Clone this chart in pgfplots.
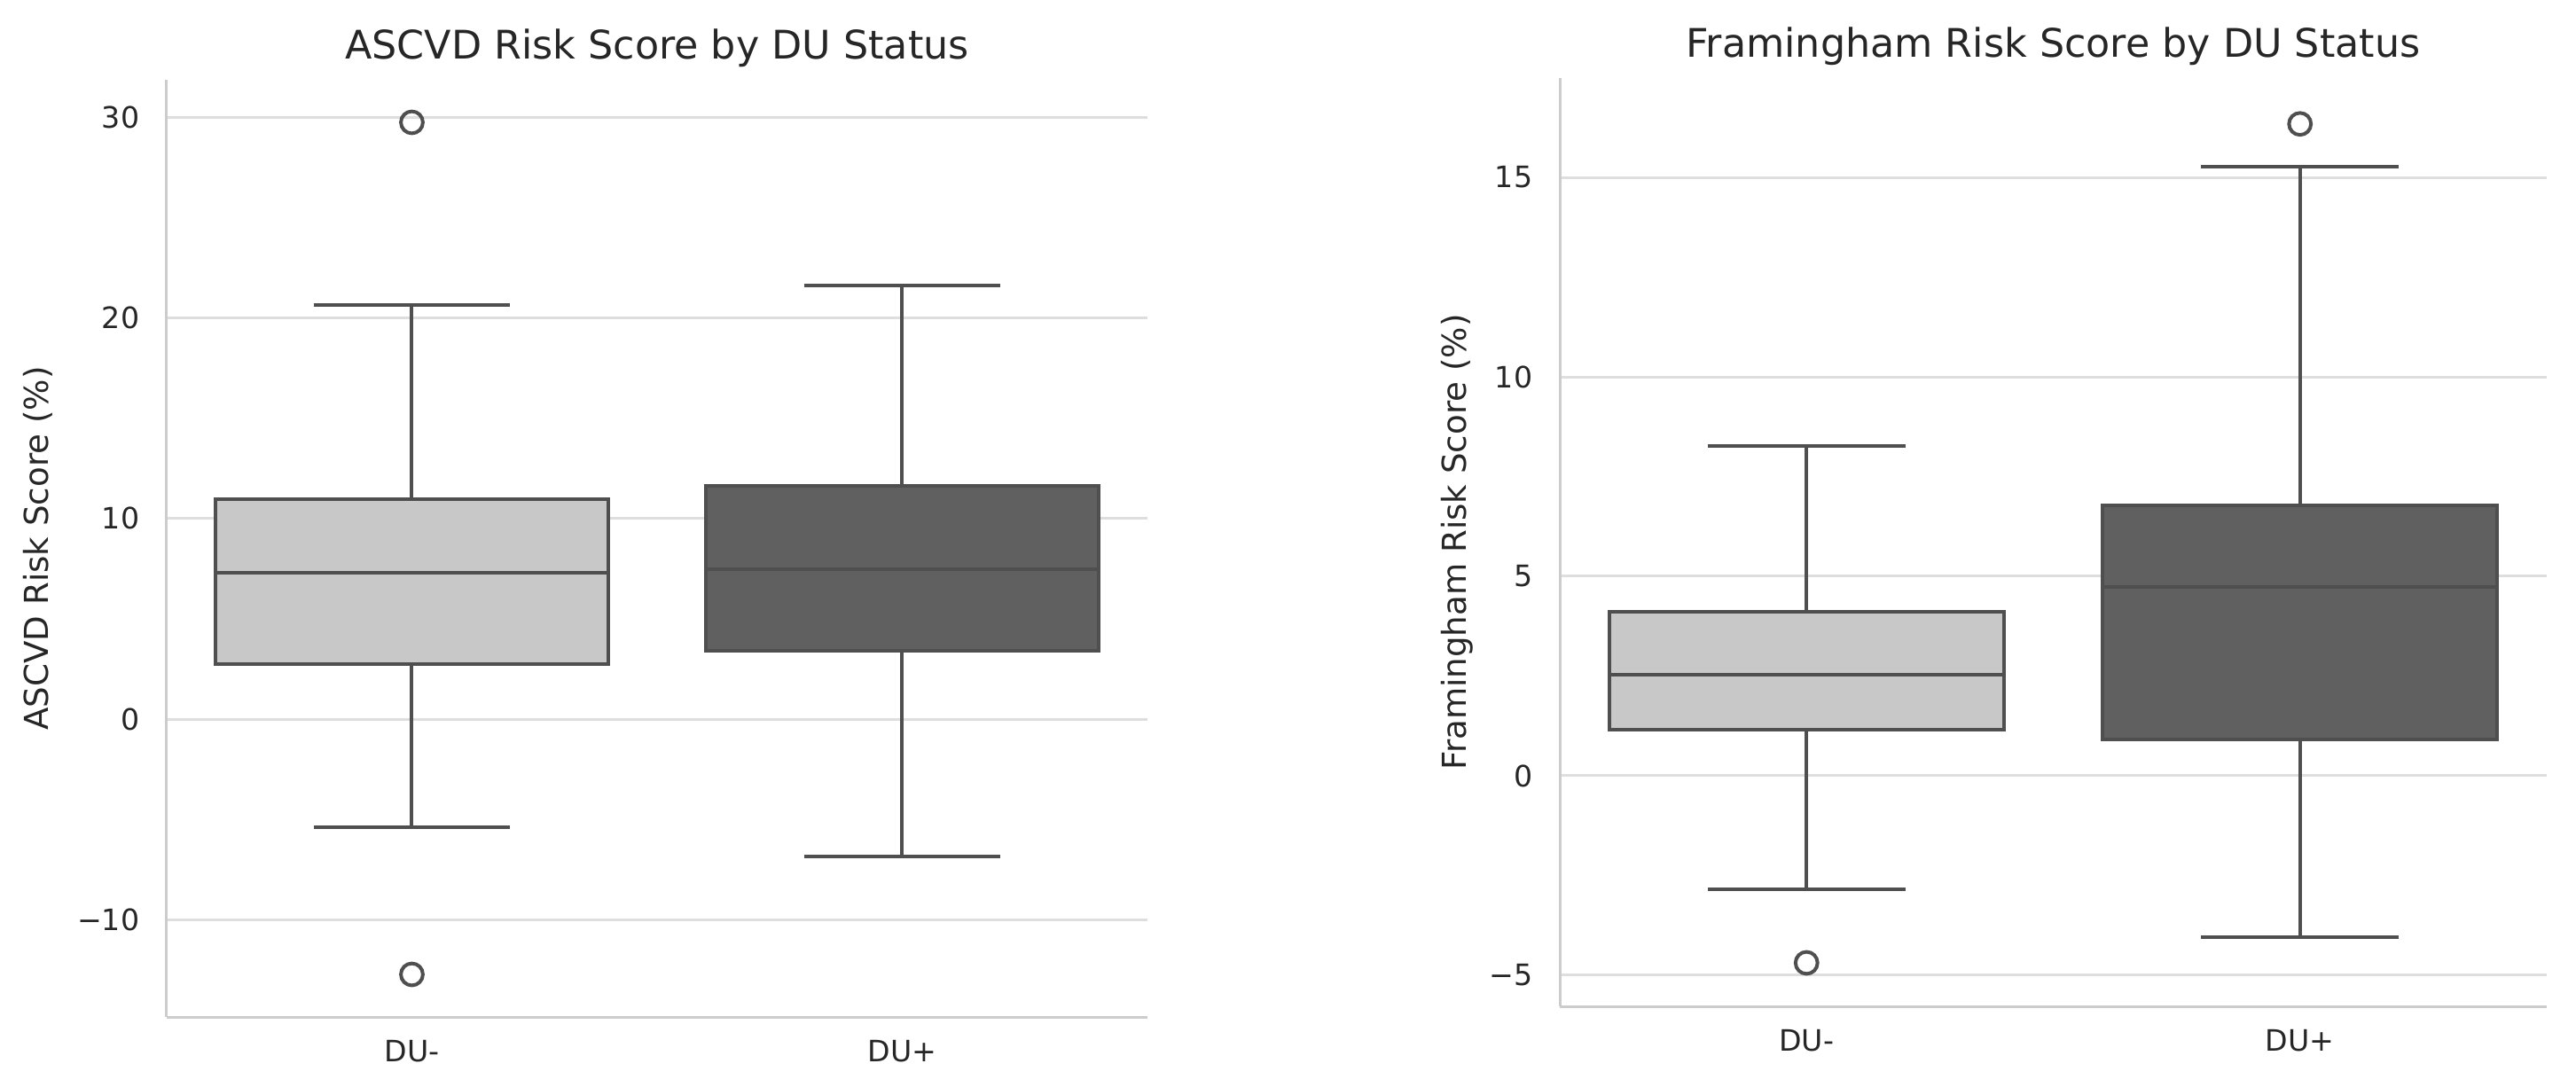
\documentclass[border=0pt]{standalone}
\usepackage{fontspec}
\setmainfont{DejaVu Sans}
\usepackage{pgfplots}
\pgfplotsset{compat=1.18}
\usepgfplotslibrary{statistics}

\definecolor{txt}{HTML}{262626}
\definecolor{spine}{HTML}{CCCCCC}
\definecolor{gridc}{HTML}{DEDEDE}
\definecolor{edge}{HTML}{4F4F4F}
\definecolor{lightbox}{HTML}{C8C8C8}
\definecolor{darkbox}{HTML}{606060}

\pgfplotsset{
  riskbox/.style={
    scale only axis,
    xmin=-0.5, xmax=1.5,
    xtick={0,1}, xticklabels={DU-,DU+},
    axis lines*=left,
    axis line style={spine, line width=0.75pt},
    major tick length=0pt,
    ymajorgrids=true,
    grid style={gridc, line width=0.75pt},
    tick label style={font=\fontsize{8.3}{10}\selectfont, text=txt},
    yticklabel style={anchor=east, inner sep=0pt, xshift=-7.5pt},
    xticklabel style={anchor=north, inner sep=0pt, yshift=-6.25pt},
    label style={font=\fontsize{9.3}{11}\selectfont, text=txt},
    every axis title/.style={font=\fontsize{11.1}{13}\selectfont, text=txt,
      at={(axis description cs:0.5,1)}, anchor=base, inner sep=0pt, yshift=6pt},
    boxplot/draw direction=y,
    boxplot/box extend=0.8,
    boxplot/whisker extend=0.4,
  },
  bx/.style={draw=edge, fill=#1, line width=1pt,
    mark=o, mark size=3.1pt, mark options={draw=edge, fill=none, line width=1pt}},
}

\begin{document}
\begin{tikzpicture}
\useasboundingbox (0,0) rectangle (726.25pt,306.25pt);

% ASCVD
\begin{axis}[riskbox,
  at={(47pt,19.5pt)}, anchor=south west,
  width=276.5pt, height=264.25pt,
  ymin=-14.83, ymax=31.86,
  ytick={-10,0,10,20,30}, yticklabels={−10,0,10,20,30},
  title={ASCVD Risk Score by DU Status},
  ylabel={ASCVD Risk Score (\%)},
  ylabel style={at={(axis description cs:-0.1203,0.5)}, anchor=base, inner sep=0pt},
]
\addplot[bx=lightbox, boxplot prepared={draw position=0,
  lower whisker=-5.39, lower quartile=2.73, median=7.29,
  upper quartile=10.95, upper whisker=20.62}]
  table[row sep=\\, y index=0] {data\\ 29.74\\ -12.71\\};
\addplot[bx=darkbox, boxplot prepared={draw position=1,
  lower whisker=-6.84, lower quartile=3.42, median=7.46,
  upper quartile=11.64, upper whisker=21.62}]
  coordinates {};
\end{axis}

% Framingham
\begin{axis}[riskbox,
  at={(439.75pt,22.5pt)}, anchor=south west,
  width=278.25pt, height=261.75pt,
  ymin=-5.78, ymax=17.49,
  ytick={-5,0,5,10,15}, yticklabels={−5,0,5,10,15},
  title={Framingham Risk Score by DU Status},
  ylabel={Framingham Risk Score (\%)},
  ylabel style={at={(axis description cs:-0.0952,0.5)}, anchor=base, inner sep=0pt},
]
\addplot[bx=lightbox, boxplot prepared={draw position=0,
  lower whisker=-2.84, lower quartile=1.16, median=2.53,
  upper quartile=4.10, upper whisker=8.26}]
  table[row sep=\\, y index=0] {data\\ -4.69\\};
\addplot[bx=darkbox, boxplot prepared={draw position=1,
  lower whisker=-4.05, lower quartile=0.90, median=4.74,
  upper quartile=6.78, upper whisker=15.26}]
  table[row sep=\\, y index=0] {data\\ 16.34\\};
\end{axis}
\end{tikzpicture}
\end{document}
